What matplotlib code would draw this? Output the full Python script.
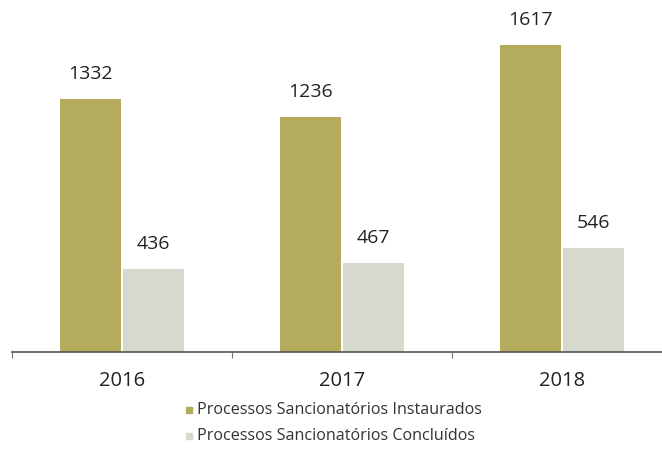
import matplotlib
matplotlib.use("Agg")
import matplotlib.pyplot as plt
import numpy as np

years = ["2016", "2017", "2018"]
instaurados = [1332, 1236, 1617]
concluidos = [436, 467, 546]
series_names = ["Processos Sancionatórios Instaurados",
                "Processos Sancionatórios Concluídos"]
colors = ["#b4ab5c", "#d6d9cc"]

plt.rcParams['font.family'] = ['Open Sans', 'DejaVu Sans']

W, H = 662, 461
fig = plt.figure(figsize=(W / 100, H / 100), dpi=100)
# axes: x from 12px to 672px (extends past the right edge), baseline at y=352px
ax = fig.add_axes([12 / W, (H - 352) / H, 660 / W, 352 / H])

x = np.arange(len(years))
bw = 0.277
off = 0.143
b1 = ax.bar(x - off, instaurados, bw, color=colors[0], label=series_names[0])
b2 = ax.bar(x + off, concluidos, bw, color=colors[1], label=series_names[1])

for bars, vals in ((b1, instaurados), (b2, concluidos)):
    for r, v in zip(bars, vals):
        ax.text(r.get_x() + r.get_width() / 2, v + 133, str(v),
                ha="center", va="center", fontsize=14, color="#222222")

ax.set_xlim(-0.5, 2.5)
ax.set_ylim(0, 1853)
for s in ("top", "right", "left"):
    ax.spines[s].set_visible(False)
ax.spines["bottom"].set_color("#555555")
ax.spines["bottom"].set_linewidth(1.2)
ax.set_yticks([])
ax.set_xticks([-0.5, 0.5, 1.5], minor=False)
ax.set_xticklabels([])
ax.tick_params(axis="x", length=4, color="#777777", width=0.8)

for xi, yr in zip(x, years):
    ax.text(xi, -155, yr, ha="center", va="center", fontsize=14.5,
            color="#222222")

# legend, drawn as small squares with text
legend_y = [410, 436]
for c, name, ly in zip(colors, series_names, legend_y):
    fig.patches.append(plt.Rectangle((186 / W, (H - ly - 3) / H), 6 / W, 6 / H,
                                     transform=fig.transFigure, color=c))
    fig.text(197 / W, (H - ly) / H, name, ha="left", va="center",
             fontsize=11.6, color="#333333")

fig.savefig("out.png", dpi=100, facecolor="white")
